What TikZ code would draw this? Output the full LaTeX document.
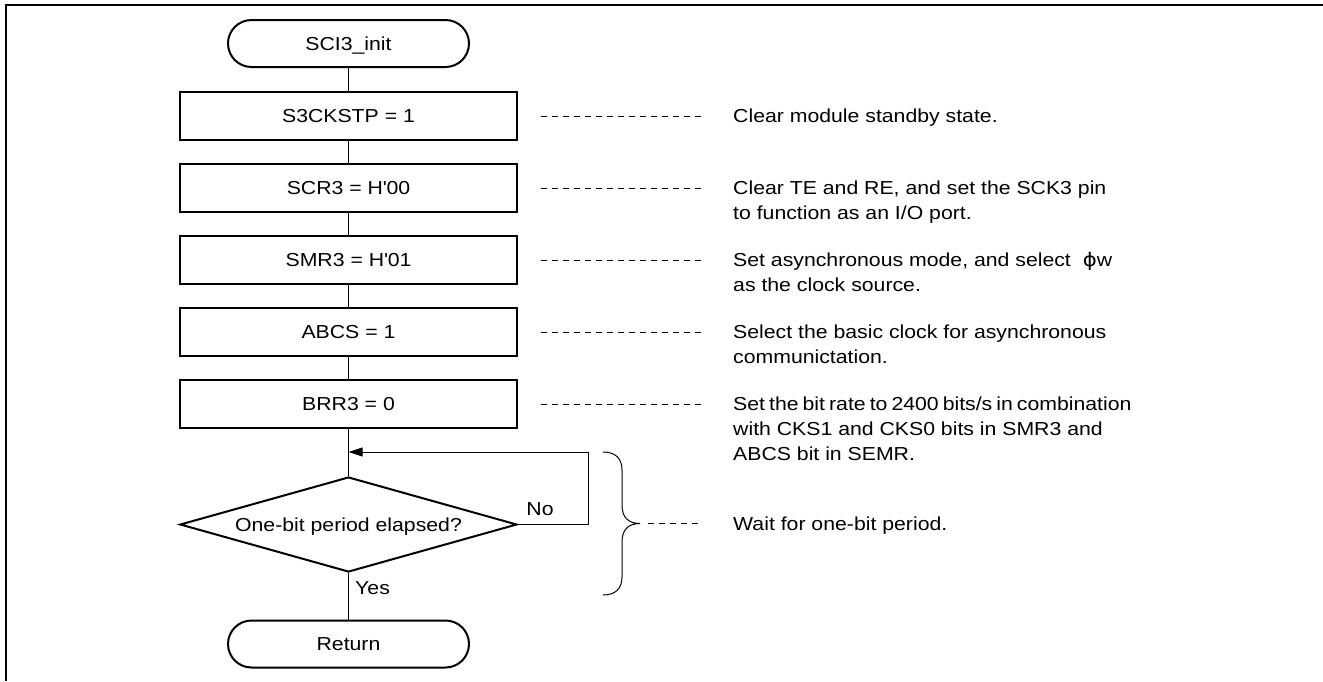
\documentclass[tikz,border=0pt]{standalone}
\usepackage{fontspec}
\setmainfont[FakeStretch=1.13]{Liberation Sans}
\newfontfamily\greekfont[FakeStretch=1.13]{DejaVu Sans}
\usetikzlibrary{shapes.geometric,arrows.meta}
\begin{document}
\begin{tikzpicture}[x=1pt,y=-1pt,
  every node/.style={font=\fontsize{18.8}{25}\selectfont, inner sep=0pt},
  term/.style={draw, line width=2pt, rounded corners=23.5pt, minimum width=241pt,
    minimum height=47pt, text height=13.5pt, text depth=0pt},
  procbox/.style={draw, line width=2pt, minimum width=337pt, minimum height=48pt,
    text height=13.5pt, text depth=0pt},
  decision/.style={draw, line width=2pt, diamond, aspect=3.55, minimum width=337pt,
    minimum height=95pt, text height=13.5pt, text depth=0pt},
  flow/.style={line width=1pt},
  leader/.style={line width=0.9pt, dash pattern=on 5.5pt off 5.5pt},
  note/.style={anchor=base west},
  frameline/.style={line width=2pt},
]
\useasboundingbox (0,0) rectangle (1323,681);

% page frame (top and left edges)
\draw[frameline] (6,681) -- (6,5) -- (1323,5);

% flow chart
\node[term]    (start) at (348.5,43.5) {SCI3\_init};
\node[procbox] (b1) at (348.5,116) {S3CKSTP = 1};
\node[procbox] (b2) at (348.5,188) {SCR3 = H\textquotesingle 00};
\node[procbox] (b3) at (348.5,260) {SMR3 = H\textquotesingle 01};
\node[procbox] (b4) at (348.5,332) {ABCS = 1};
\node[procbox] (b5) at (348.5,404) {BRR3 = 0};
\node[decision] (dec) at (348.5,524.5) {One-bit period elapsed?};
\node[term]    (ret) at (348.5,644) {Return};

\coordinate (loopin) at (348.5,452);
\coordinate (loopcorner) at (588,452);

\draw[flow] (start) -- (b1);
\draw[flow] (b1) -- (b2);
\draw[flow] (b2) -- (b3);
\draw[flow] (b3) -- (b4);
\draw[flow] (b4) -- (b5);
\draw[flow] (b5) -- (dec);
\draw[flow] (dec) -- (ret);
\draw[flow, -{Triangle[length=14pt,width=9pt]}] (dec.east) -| (loopcorner) -- (loopin);

\node[anchor=center] (no) at (540,509) {No};
\node[anchor=west] (yes) at (355,588) {Yes};

% brace around the wait loop
\coordinate (bracetip) at (640,523.5);
\draw[line width=1pt] (603,452) .. controls (615,452) and (622,458) .. (622,470)
  -- (622,505) .. controls (622,517) and (628,523.5) .. (bracetip)
  .. controls (628,523.5) and (622,530) .. (622,542)
  -- (622,577) .. controls (622,589) and (615,595) .. (603,595);

% leader lines
\draw[leader] ([xshift=23pt]b1.east) -- ++(160,0);
\draw[leader] ([xshift=23pt]b2.east) -- ++(160,0);
\draw[leader] ([xshift=23pt]b3.east) -- ++(160,0);
\draw[leader] ([xshift=23pt]b4.east) -- ++(160,0);
\draw[leader] ([xshift=23pt]b5.east) -- ++(160,0);
\draw[leader] ([xshift=8pt]bracetip) -- ++(52,0);

% explanations
\node[note] (n1) at (733,122.7) {\parbox[t]{14cm}{Clear module standby state.}};
\node[note] (n2) at (733,194.7) {\parbox[t]{14cm}{Clear TE and RE, and set the SCK3 pin\\to function as an I/O port.}};
\node[note] (n3) at (733,266.7) {\parbox[t]{14cm}{Set asynchronous mode, and select \ {\greekfont ϕ}w\\as the clock source.}};
\node[note] (n4) at (733,338.7) {\parbox[t]{14cm}{Select the basic clock for asynchronous\\communictation.}};
\node[note] (n5) at (733,410.7) {\parbox[t]{14cm}{Set the bit rate to 2400 bits/s in combination\\with CKS1 and CKS0 bits in SMR3 and\\ABCS bit in SEMR.}};
\node[note] (n6) at (733,530.2) {\parbox[t]{14cm}{Wait for one-bit period.}};
\end{tikzpicture}
\end{document}
